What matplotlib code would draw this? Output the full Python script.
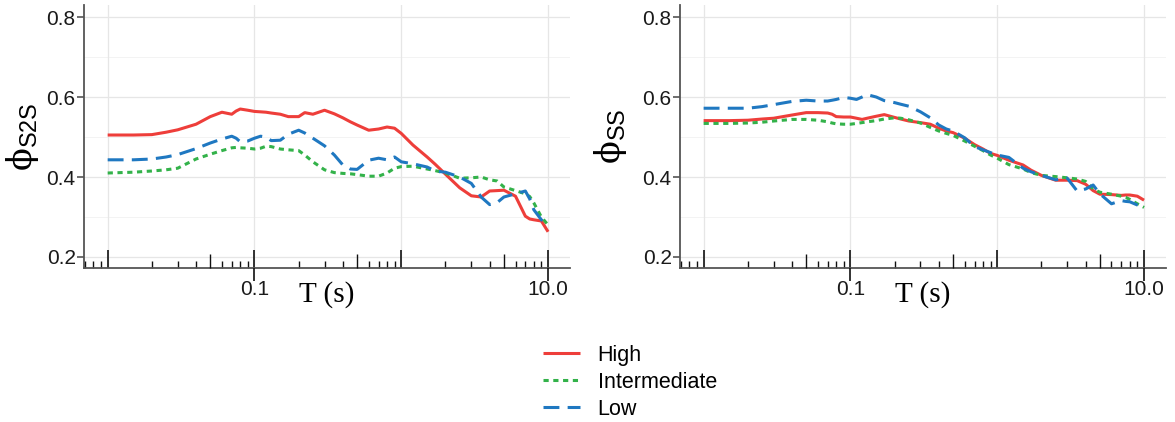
import matplotlib
matplotlib.use('Agg')
import matplotlib.pyplot as plt
from matplotlib.ticker import FixedLocator, LogLocator, FuncFormatter, NullFormatter

# spectral periods (s)
period = [0.01, 0.015, 0.02, 0.025, 0.03, 0.04, 0.05, 0.06, 0.07, 0.075, 0.08, 0.09,
          0.1, 0.11, 0.12, 0.13, 0.15, 0.17, 0.2, 0.22, 0.25, 0.3, 0.35, 0.4, 0.45,
          0.5, 0.6, 0.7, 0.8, 0.9, 1.0, 1.2, 1.5, 1.7, 2.0, 2.5, 3.0, 3.5, 4.0, 4.5,
          5.0, 6.0, 7.0, 7.5, 8.0, 9.0, 10.0]

# phi_S2S
s2s_high = [0.505, 0.505, 0.506, 0.512, 0.518, 0.532, 0.551, 0.562, 0.557, 0.565, 0.570, 0.567,
            0.564, 0.563, 0.562, 0.560, 0.557, 0.551, 0.551, 0.561, 0.557, 0.567, 0.558, 0.548, 0.538,
            0.530, 0.517, 0.520, 0.525, 0.522, 0.509, 0.480, 0.450, 0.432, 0.407, 0.373, 0.353, 0.350,
            0.365, 0.366, 0.367, 0.352, 0.302, 0.295, 0.293, 0.290, 0.263]
s2s_inter = [0.410, 0.412, 0.415, 0.418, 0.422, 0.445, 0.457, 0.466, 0.473, 0.474, 0.473, 0.472,
             0.470, 0.472, 0.477, 0.476, 0.470, 0.468, 0.466, 0.455, 0.438, 0.418, 0.411, 0.409, 0.408,
             0.406, 0.402, 0.402, 0.410, 0.422, 0.426, 0.427, 0.420, 0.416, 0.410, 0.397, 0.398, 0.400,
             0.393, 0.390, 0.375, 0.366, 0.358, 0.351, 0.335, 0.300, 0.280]
s2s_low = [0.443, 0.443, 0.445, 0.450, 0.456, 0.471, 0.485, 0.495, 0.502, 0.497, 0.488, 0.490,
           0.497, 0.502, 0.500, 0.491, 0.492, 0.507, 0.517, 0.510, 0.497, 0.478, 0.455, 0.430, 0.420,
           0.419, 0.442, 0.447, 0.443, 0.450, 0.438, 0.433, 0.425, 0.415, 0.412, 0.400, 0.384, 0.350,
           0.331, 0.336, 0.350, 0.358, 0.365, 0.345, 0.318, 0.293, 0.278]

# phi_SS
ss_high = [0.541, 0.541, 0.542, 0.545, 0.547, 0.555, 0.561, 0.561, 0.560, 0.557, 0.551, 0.550,
           0.550, 0.547, 0.544, 0.547, 0.552, 0.556, 0.549, 0.545, 0.540, 0.536, 0.532, 0.522, 0.515,
           0.511, 0.497, 0.481, 0.470, 0.459, 0.454, 0.442, 0.430, 0.417, 0.404, 0.392, 0.392, 0.391,
           0.382, 0.366, 0.357, 0.356, 0.354, 0.355, 0.355, 0.352, 0.342]
ss_inter = [0.534, 0.534, 0.535, 0.537, 0.540, 0.544, 0.544, 0.542, 0.538, 0.535, 0.533, 0.532,
            0.532, 0.534, 0.536, 0.538, 0.541, 0.545, 0.548, 0.547, 0.543, 0.535, 0.524, 0.515, 0.509,
            0.504, 0.490, 0.477, 0.466, 0.455, 0.447, 0.431, 0.420, 0.411, 0.404, 0.401, 0.398, 0.395,
            0.389, 0.370, 0.362, 0.357, 0.352, 0.349, 0.344, 0.333, 0.324]
ss_low = [0.572, 0.572, 0.572, 0.576, 0.581, 0.589, 0.592, 0.590, 0.590, 0.592, 0.594, 0.599,
          0.597, 0.594, 0.600, 0.606, 0.600, 0.591, 0.586, 0.582, 0.577, 0.563, 0.548, 0.530, 0.520,
          0.515, 0.498, 0.476, 0.468, 0.461, 0.455, 0.449, 0.422, 0.413, 0.404, 0.393, 0.397, 0.365,
          0.370, 0.380, 0.358, 0.333, 0.341, 0.339, 0.338, 0.330, 0.324]

labels = ['High', 'Intermediate', 'Low']
colors = ['#EE3E3A', '#33B24A', '#1F78C1']

plt.rcParams['font.family'] = ['Liberation Sans', 'DejaVu Sans']
plt.rcParams['mathtext.fontset'] = 'custom'
plt.rcParams['mathtext.rm'] = 'DejaVu Serif'
plt.rcParams['mathtext.sf'] = 'Liberation Sans'

fig = plt.figure(figsize=(11.75, 4.22), dpi=100)
ax1 = fig.add_axes([0.0715, 0.365, 0.4136, 0.623])
ax2 = fig.add_axes([0.5787, 0.365, 0.4136, 0.623])

axis_col = '#555555'


def fmt_x(v, pos):
    if abs(v - 0.1) < 1e-9:
        return '0.1'
    if abs(v - 10) < 1e-9:
        return '10.0'
    return ''


def style(ax, ylab, lpad):
    ax.set_xscale('log')
    ax.set_xlim(0.0069, 14.1)
    ax.set_ylim(0.1725, 0.83)
    for s in ['top', 'right']:
        ax.spines[s].set_visible(False)
    for s in ['left', 'bottom']:
        ax.spines[s].set_color(axis_col)
        ax.spines[s].set_linewidth(1.3)
    ax.set_yticks([0.2, 0.4, 0.6, 0.8])
    ax.yaxis.set_minor_locator(FixedLocator([0.3, 0.5, 0.7]))
    ax.tick_params(axis='y', which='major', direction='out', length=5, width=1.2,
                   color=axis_col, labelsize=15, labelcolor='#1a1a1a', pad=1)
    ax.tick_params(axis='y', which='minor', length=0)
    # log ticks: decades long, 2-9 short (inward)
    ax.xaxis.set_major_locator(LogLocator(base=10, numticks=10))
    ax.xaxis.set_major_formatter(FuncFormatter(fmt_x))
    ax.xaxis.set_minor_locator(LogLocator(base=10, subs=[2, 3, 4, 6, 7, 8, 9], numticks=20))
    ax.xaxis.set_minor_formatter(NullFormatter())
    ax.tick_params(axis='x', which='major', direction='in', length=13, width=1.2,
                   color='#111111', labelsize=15, labelcolor='#1a1a1a', pad=9)
    ax.tick_params(axis='x', which='minor', direction='in', length=5, width=1.0,
                   color='#111111')
    # secondary axis for outward ticks at labelled breaks and the mid (5x) ticks
    sec = ax.secondary_xaxis(0)
    sec.spines['bottom'].set_visible(False)
    sec.xaxis.set_major_locator(FixedLocator([0.1, 10]))
    sec.xaxis.set_major_formatter(NullFormatter())
    sec.xaxis.set_minor_locator(LogLocator(base=10, subs=[5], numticks=20))
    sec.xaxis.set_minor_formatter(NullFormatter())
    sec.tick_params(axis='x', which='major', direction='out', length=9, width=1.2, color='#111111')
    sec.tick_params(axis='x', which='minor', direction='in', length=10, width=1.0, color='#111111')
    sec.set_zorder(3)

    ax.grid(True, which='major', axis='both', color='#E6E6E6', linewidth=0.9)
    ax.grid(True, which='minor', axis='y', color='#F3F3F3', linewidth=0.7)
    ax.grid(False, which='minor', axis='x')
    ax.set_axisbelow(True)
    # keep the x ticks above the horizontal grid lines
    ax.xaxis.set_zorder(0.7)

    ax.set_xlabel('T (s)', family='Liberation Serif', fontsize=21, labelpad=-13)
    ax.set_ylabel(ylab, fontsize=24, labelpad=lpad)


def draw(ax, high, inter, low):
    ax.plot(period, high, color=colors[0], lw=2.2, label=labels[0], solid_capstyle='butt')
    ax.plot(period, inter, color=colors[1], lw=2.2, linestyle=(0, (1.7, 1.5)),
            label=labels[1], dash_capstyle='butt')
    ax.plot(period, low, color=colors[2], lw=2.2, linestyle=(0, (5.2, 2.7)),
            label=labels[2], dash_capstyle='butt')


draw(ax1, s2s_high, s2s_inter, s2s_low)
draw(ax2, ss_high, ss_inter, ss_low)
style(ax1, r'$\mathrm{ϕ}_{\mathsf{S2S}}$', 4)
style(ax2, r'$\mathrm{ϕ}_{\mathsf{SS}}$', 10)

h, l = ax1.get_legend_handles_labels()
fig.legend(h, l, loc='center', bbox_to_anchor=(0.536, 0.094), frameon=False, fontsize=15.5,
           handlelength=1.75, labelspacing=0.27, handletextpad=0.8)

fig.savefig('out.png', dpi=100)
